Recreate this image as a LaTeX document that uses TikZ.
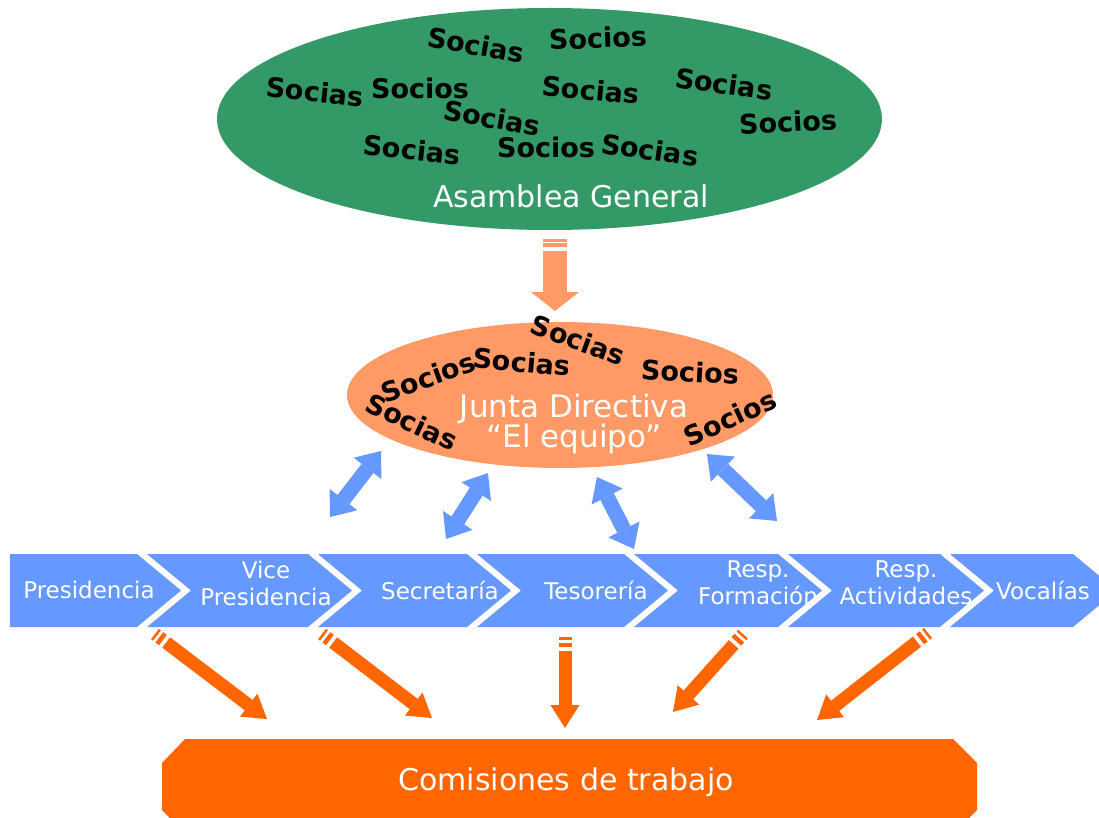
\documentclass[tikz,border=0pt]{standalone}
\usepackage{fontspec}
\setmainfont{DejaVu Sans}
\usetikzlibrary{shapes.geometric,arrows.meta}
\definecolor{verde}{HTML}{339966}
\definecolor{salmon}{HTML}{FF9966}
\definecolor{azul}{HTML}{6699FF}
\definecolor{naranja}{HTML}{FF6600}
\tikzset{
  blanco/.style={text=white,font=\fontsize{30}{30}\selectfont,inner sep=0pt,align=center},
  socio/.style={font=\bfseries\fontsize{27}{28}\selectfont,inner sep=0pt},
  etapa/.style={text=white,font=\fontsize{23}{27}\selectfont,inner sep=0pt,align=center},
  flechaazul/.style={azul,line width=15pt,
    {Triangle[width=35pt,length=22pt,line width=0pt]}-{Triangle[width=35pt,length=22pt,line width=0pt]}},
  flechanaranja/.style={naranja,line width=13pt,-{Triangle[width=29pt,length=23pt,line width=0pt]},
    dash pattern=on 2.5pt off 3pt on 4.5pt off 4pt on 400pt off 1pt},
  flechasalmon/.style={salmon,line width=24pt,-{Triangle[width=48pt,length=19pt,line width=0pt]},
    dash pattern=on 2.5pt off 1.6pt on 3.4pt off 4pt on 400pt off 1pt}
}
\begin{document}
\begin{tikzpicture}[x=1pt,y=-1pt]
\useasboundingbox (0,0) rectangle (1099,818);
\node[ellipse,fill=verde,minimum width=665pt,minimum height=222pt] (asamblea) at (549.5,119) {};
\node[blanco] (asambleatxt) at (571,196) {Asamblea General};
\node[socio,rotate=-10] (g1) at (476,45) {Socias};
\node[socio,rotate=2] (g2) at (598,38) {Socios};
\node[socio,rotate=-6] (g3) at (315,92) {Socias};
\node[socio] (g4) at (420,88) {Socios};
\node[socio,rotate=-10] (g5) at (492,118) {Socias};
\node[socio,rotate=-5] (g6) at (591,90) {Socias};
\node[socio,rotate=-8] (g7) at (724,84) {Socias};
\node[socio,rotate=3] (g8) at (788,122) {Socios};
\node[socio,rotate=-6] (g9) at (412,150) {Socias};
\node[socio] (g10) at (546,147) {Socios};
\node[socio,rotate=-8] (g11) at (650,150) {Socias};
\coordinate (bajaini) at (555,239);
\coordinate (bajafin) at (555,311);
\draw[flechasalmon] (bajaini) -- (bajafin);
\node[ellipse,fill=salmon,minimum width=426pt,minimum height=146pt] (junta) at (560,395) {};
\node[blanco,font=\fontsize{31}{30}\selectfont] (juntatxt) at (574,424) {Junta Directiva\\``El equipo''};
\node[socio,rotate=20] (j1) at (428,377) {Socios};
\node[socio,rotate=-5] (j2) at (522,362) {Socias};
\node[socio,rotate=-20] (j3) at (578,340) {Socias};
\node[socio,rotate=-3] (j4) at (690,372) {Socios};
\node[socio,rotate=-25] (j5) at (412,422) {Socias};
\node[socio,rotate=25] (j6) at (730,418) {Socios};
\fill[azul] (10,554) -- (137,554) -- (181,590.5) -- (137,627) -- (10,627) -- cycle;
\foreach \l/\r in {147/308,318/467,477/624,634/778,788/940}
  \fill[azul] (\l,554) -- (\r,554) -- (\r+44,590.5) -- (\r,627) -- (\l,627) -- (\l+44,590.5) -- cycle;
\fill[azul] (950,554) -- (1073,554) -- (1099,575.6) -- (1099,605.4) -- (1073,627) -- (950,627) -- (994,590.5) -- cycle;
\node[etapa] (presidencia) at (89,590) {Presidencia};
\node[etapa] (vice) at (266,583) {Vice\\Presidencia};
\node[etapa] (secretaria) at (440,590) {Secretaría};
\node[etapa] (tesoreria) at (596,590) {Tesorería};
\node[etapa] (formacion) at (758,583) {Resp.\\Formación};
\node[etapa] (actividades) at (906,583) {Resp.\\Actividades};
\node[etapa] (vocalias) at (1043,590) {Vocalías};
\coordinate (a1) at (381,451); \coordinate (b1) at (330,517);
\coordinate (a2) at (488,473); \coordinate (b2) at (446,539);
\coordinate (a3) at (597,477); \coordinate (b3) at (634,549);
\coordinate (a4) at (707,454); \coordinate (b4) at (777,521);
\foreach \i in {1,...,4}
  \draw[flechaazul] (a\i) -- (b\i);
\fill[naranja] (185,739) -- (953,739) -- (977,763) -- (977,810) -- (969,818) -- (170,818) -- (162,810) -- (162,763) -- cycle;
\node[blanco] (comisiones) at (566,782) {Comisiones de trabajo};
\coordinate (c1) at (155,634); \coordinate (d1) at (267,719);
\coordinate (c2) at (322,634); \coordinate (d2) at (432,718);
\coordinate (c3) at (565,637); \coordinate (d3) at (565,728);
\coordinate (c4) at (743,634); \coordinate (d4) at (673,712);
\coordinate (c5) at (928,633); \coordinate (d5) at (817,720);
\foreach \i in {1,...,5}
  \draw[flechanaranja] (c\i) -- (d\i);
\end{tikzpicture}
\end{document}
